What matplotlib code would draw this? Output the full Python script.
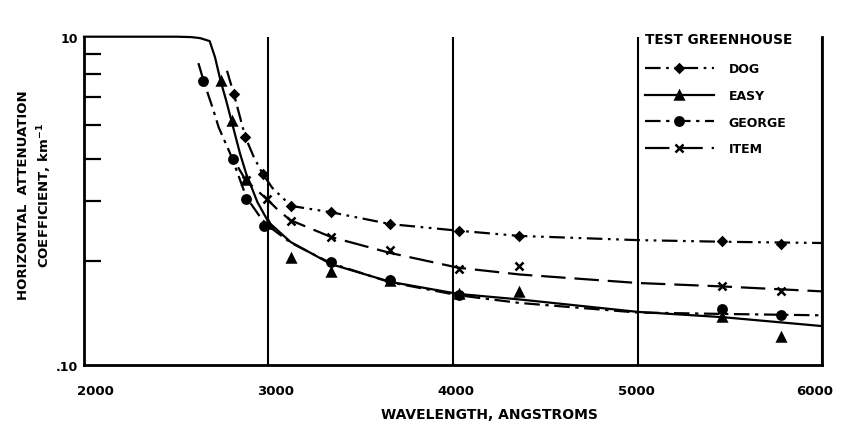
import numpy as np
import matplotlib.pyplot as plt
import matplotlib.transforms as mtransforms
from matplotlib.legend_handler import HandlerLine2D

# curve traces (wavelength in angstroms, attenuation in km^-1)
dog_x = [2775, 2814, 2874, 2920, 2968, 3020, 3085, 3120, 3340, 3660, 4030, 4360, 5000, 5460, 6000]
dog_y = [6.2, 4.4, 2.45, 1.85, 1.46, 1.2, 1.02, 0.93, 0.85, 0.72, 0.656, 0.61, 0.575, 0.562, 0.552]
dog_px = [2814, 2874, 2968, 3120, 3340, 3660, 4030, 4360, 5460, 5780]
dog_py = [4.45, 2.44, 1.46, 0.93, 0.85, 0.72, 0.656, 0.607, 0.565, 0.545]

easy_x = [2000, 2500, 2580, 2630, 2681, 2710, 2740, 2770, 2800, 2845, 2880, 2940, 3000, 3120, 3340,
          3660, 4030, 4360, 5000, 5460, 6000]
easy_y = [10, 10, 9.95, 9.8, 9.4, 7.5, 5.4, 4.1, 3.05, 1.95, 1.45, 0.98, 0.74, 0.56, 0.41,
          0.32, 0.27, 0.25, 0.21, 0.195, 0.172]
easy_px = [2740, 2800, 2877, 3000, 3120, 3340, 3660, 4030, 4360, 5460, 5780]
easy_py = [5.4, 3.05, 1.33, 0.72, 0.45, 0.37, 0.325, 0.27, 0.276, 0.195, 0.147]

george_x = [2620, 2650, 2700, 2730, 2800, 2880, 2960, 3000, 3120, 3340, 3660, 4030, 4360, 5000, 5460, 6000]
george_y = [6.9, 5.3, 3.6, 2.8, 1.85, 1.05, 0.78, 0.70, 0.555, 0.415, 0.318, 0.265, 0.238, 0.208, 0.204, 0.200]
george_px = [2647, 2805, 2877, 2977, 3340, 3660, 4030, 5460, 5780]
george_py = [5.4, 1.80, 1.02, 0.70, 0.42, 0.33, 0.265, 0.219, 0.20]

item_x = [2835, 2877, 2940, 3000, 3060, 3120, 3340, 3660, 4030, 4360, 5000, 5460, 6000]
item_y = [1.6, 1.33, 1.15, 1.0, 0.86, 0.76, 0.60, 0.48, 0.39, 0.355, 0.315, 0.30, 0.28]
item_px = [2877, 2990, 3120, 3340, 3660, 4030, 4360, 5460, 5780]
item_py = [1.33, 1.02, 0.755, 0.60, 0.50, 0.385, 0.40, 0.303, 0.283]

x_ticks = [2000, 3000, 4000, 5000, 6000]
y_minor = [10, 7.8, 5.9, 4.3, 2.9, 1.8, 1, 0.43]


class LeftMarker(HandlerLine2D):
    def get_xdata(self, legend, xdescent, ydescent, width, height, fontsize):
        return [-xdescent, -xdescent + width], [-xdescent + width * 0.25]


fig = plt.figure(figsize=(8.45, 4.27), dpi=100)
ax = fig.add_axes([84 / 845, 61.3 / 427, 738 / 845, 328 / 427])

lw = 1.6
series = [
    ("DOG", dog_x, dog_y, dog_px, dog_py, (0, (7, 2.5, 1.2, 2.5, 1.2, 2.5)), "D", 4),
    ("EASY", easy_x, easy_y, easy_px, easy_py, "-", "^", 6),
    ("GEORGE", george_x, george_y, george_px, george_py, (0, (7, 2.5, 1.5, 2.5)), "o", 6),
    ("ITEM", item_x, item_y, item_px, item_py, (0, (11, 4)), "x", 6),
]
handles = []
for name, lx, ly, px, py, ls, mk, ms in series:
    ax.plot(lx, ly, color="black", lw=lw, ls=ls, clip_on=False)
    ax.plot(px, py, color="black", ls="none", marker=mk, ms=ms, mew=1.8)
    h, = ax.plot([], [], color="black", lw=lw, ls=ls, marker=mk, ms=ms, mew=1.8)
    handles.append(h)

ax.set_yscale("log")
ax.set_xlim(2000, 6000)
ax.set_ylim(0.1, 10)

ax.set_xticks(x_ticks)
ax.set_xticklabels([str(v) for v in x_ticks], fontsize=9.5, fontweight="bold")
ax.tick_params(axis="x", length=0, pad=14)
ax.grid(axis="x", color="black", lw=1.5)
# hand lettered labels sit a little off their lines
for lab, dx in zip(ax.get_xticklabels(), [8, 5, 2, -1, -5]):
    lab.set_transform(lab.get_transform() + mtransforms.ScaledTranslation(dx / 72, 0, fig.dpi_scale_trans))

ax.set_yticks([0.1, 10])
ax.set_yticklabels([".10", "10"], fontsize=9, fontweight="bold")
ax.set_yticks(y_minor, minor=True)
ax.yaxis.set_minor_formatter(plt.NullFormatter())
ax.tick_params(axis="y", which="major", length=0, pad=4)
ax.tick_params(axis="y", which="minor", direction="in", length=12, width=1.6)

for s in ["left", "bottom", "right"]:
    ax.spines[s].set_linewidth(2)
ax.spines["top"].set_visible(False)

ax.set_xlabel("WAVELENGTH, ANGSTROMS", fontsize=10, fontweight="bold")
ax.xaxis.set_label_coords(0.55, -0.13)
ax.set_ylabel("HORIZONTAL  ATTENUATION\nCOEFFICIENT, km$^{\\mathbf{-1}}$", fontsize=9.5,
              fontweight="bold", linespacing=1.45)
ax.yaxis.set_label_coords(-0.04, 0.52)

leg = ax.legend(handles, [s[0] for s in series], title="TEST GREENHOUSE",
                loc="upper left", bbox_to_anchor=(0.745, 1.05), frameon=False,
                handlelength=5.5, handletextpad=1.2, labelspacing=1.1,
                prop={"weight": "bold", "size": 9},
                handler_map={h: LeftMarker() for h in handles})
leg.get_title().set_fontweight("bold")
leg.get_title().set_fontsize(9.8)
leg._legend_box.align = "left"
leg._legend_box.sep = 12

plt.savefig("out.png", dpi=100)
